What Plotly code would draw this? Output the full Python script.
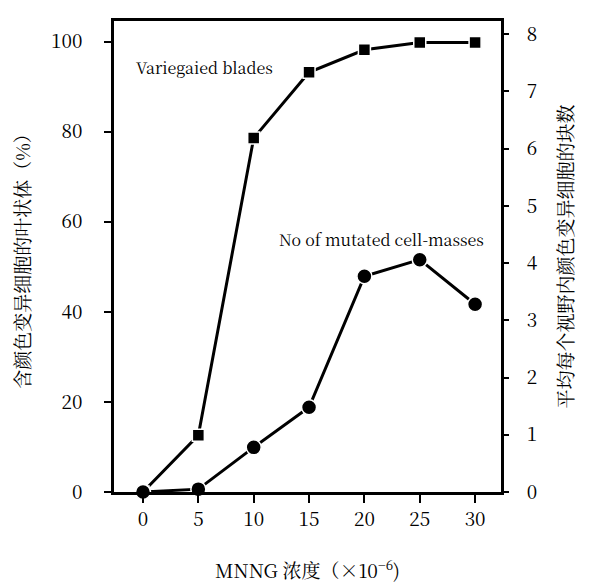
import plotly.graph_objects as go

conc = [0, 5, 10, 15, 20, 25, 30]
variegated_pct = [0, 12.6, 78.6, 93.2, 98.2, 99.8, 99.8]
mutated_masses = [0.0, 0.05, 0.78, 1.48, 3.77, 4.06, 3.28]

x_ticks = [0, 5, 10, 15, 20, 25, 30]
left_ticks = [0, 20, 40, 60, 80, 100]
right_ticks = [0, 1, 2, 3, 4, 5, 6, 7, 8]

serif = "Noto Serif CJK SC, Noto Sans CJK SC, serif"

fig = go.Figure()
fig.add_trace(go.Scatter(
    x=conc, y=variegated_pct, mode="lines+markers",
    line=dict(color="black", width=3),
    marker=dict(symbol="square", size=12, color="black",
                line=dict(color="white", width=1.5)),
    yaxis="y", showlegend=False, cliponaxis=False))
fig.add_trace(go.Scatter(
    x=conc, y=mutated_masses, mode="lines+markers",
    line=dict(color="black", width=3),
    marker=dict(symbol="circle", size=15, color="black",
                line=dict(color="white", width=1.5)),
    yaxis="y2", showlegend=False, cliponaxis=False))

fig.add_annotation(x=-0.8, y=94.3, xref="x", yref="y", text="Variegaied blades",
                   showarrow=False, xanchor="left", yanchor="middle",
                   font=dict(family=serif, size=16, color="black"))
fig.add_annotation(x=12.1, y=56.1, xref="x", yref="y", text="No of mutated cell-masses",
                   showarrow=False, xanchor="left", yanchor="middle",
                   font=dict(family=serif, size=16, color="black"))

fig.update_layout(
    width=590, height=584,
    margin=dict(l=106, r=97, t=10, b=100),
    plot_bgcolor="white", paper_bgcolor="white",
    xaxis=dict(range=[-2.62, 32.34], tickvals=x_ticks, ticktext=[str(v) for v in x_ticks],
               ticks="outside", ticklen=8, tickwidth=2, tickcolor="black",
               showline=True, linecolor="black", linewidth=2.5, mirror=True,
               showgrid=False, zeroline=False,
               tickfont=dict(family=serif, size=19, color="black"),
               title=dict(text="MNNG 浓度（×10<sup>−6</sup>)", standoff=36,
                          font=dict(family=serif, size=19, color="black"))),
    yaxis=dict(range=[0, 104.6], tickvals=left_ticks, ticktext=[str(v) for v in left_ticks],
               ticks="outside", ticklen=7, tickwidth=2, tickcolor="black",
               ticklabelstandoff=18,
               showline=True, linecolor="black", linewidth=2.5, mirror=True,
               showgrid=False, zeroline=False,
               tickfont=dict(family=serif, size=19, color="black"),
               title=dict(text="含颜色变异细胞的叶状体（%）", standoff=18,
                          font=dict(family=serif, size=19, color="black"))),
    yaxis2=dict(range=[0, 8.23], tickvals=right_ticks, ticktext=[str(v) for v in right_ticks],
                overlaying="y", side="right",
                ticks="outside", ticklen=7, tickwidth=2, tickcolor="black",
                ticklabelstandoff=14,
                showline=False, showgrid=False, zeroline=False,
                tickfont=dict(family=serif, size=19, color="black"),
                title=dict(text="平均每个视野内颜色变异细胞的块数", standoff=22,
                           font=dict(family=serif, size=19, color="black"))),
)

fig.write_html("out.html")
